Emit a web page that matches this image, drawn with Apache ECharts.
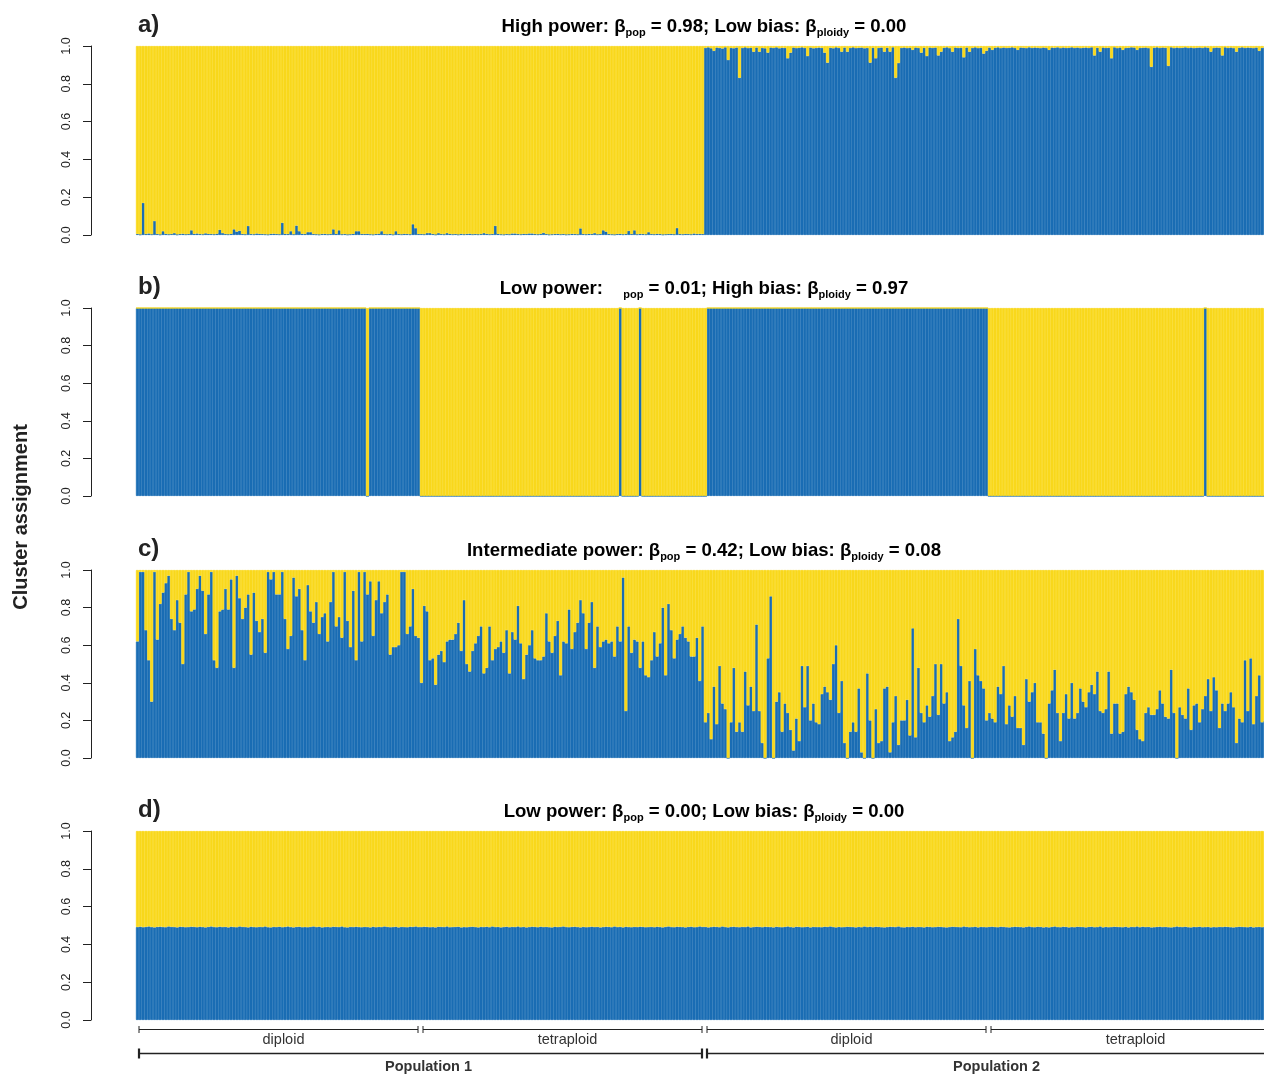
<!DOCTYPE html>
<html><head><meta charset="utf-8">
<script src="https://cdn.jsdelivr.net/npm/echarts@6/dist/echarts.min.js"></script>
<style>html,body{margin:0;padding:0;background:#fff;overflow:hidden}#c{width:1280px;height:1075px}</style>
</head><body><div id="c"></div>
<script>
// ---------------- data ----------------
const panelLetters = ['a)', 'b)', 'c)', 'd)'];
const powerLabels = ['High power:', 'Low power:', 'Intermediate power:', 'Low power:'];
const betaPop = ['0.98', '0.01', '0.42', '0.00'];
const biasLabels = ['Low bias:', 'High bias:', 'Low bias:', 'Low bias:'];
const betaPloidy = ['0.00', '0.97', '0.08', '0.00'];
const betaPopSymbolShown = [true, false, true, true];
const yTicks = [0, 0.2, 0.4, 0.6, 0.8, 1.0];
const groupLabels = ['diploid', 'tetraploid', 'diploid', 'tetraploid'];
const groupRanges = [[0, 100], [100, 200], [200, 300], [300, 400]];
const popLabels = ['Population 1', 'Population 2'];
const popRanges = [[0, 200], [200, 400]];
const yTitle = 'Cluster assignment';

// blue cluster membership, percent, 400 individuals
const blueA = [
0.5,0.3,17,0.5,0.8,0.4,7.4,0.5,0.3,2,0.6,0.4,0.5,1,0.3,0.5,0.7,0.4,0.5,2.5,
0.6,0.8,0.5,0.4,0.9,0.6,0.5,0.4,0.7,2.8,1,0.5,0.4,0.6,3,1.8,2.3,0.5,0.4,4.8,
0.5,0.4,0.8,0.6,0.5,0.4,0.3,0.6,0.7,0.5,0.4,6.5,0.6,0.5,2,0.4,5,2,0.6,0.5,
1.5,1.5,0.5,0.4,0.3,0.5,0.6,0.4,0.5,3,0.6,2.5,0.4,0.5,0.3,0.4,0.6,2,2,0.5,
0.5,0.6,0.4,0.3,0.5,0.7,2,0.5,0.4,0.6,0.3,2,0.5,0.4,0.6,0.5,0.4,5.7,3.6,0.5,
0.5,0.4,1,1,0.5,0.3,1,0.5,0.4,1,0.6,0.4,0.5,0.3,0.6,0.4,0.5,0.7,0.4,0.5,
0.4,0.5,1,0.6,0.4,0.5,4.9,0.6,0.4,0.3,0.5,0.4,0.8,0.8,0.5,0.4,0.6,0.5,0.8,0.8,
0.5,0.4,0.6,1.2,0.5,0.3,0.4,0.5,0.6,0.4,0.5,0.3,0.4,0.6,0.5,0.4,3.5,0.5,0.4,0.6,
0.5,1,0.4,0.5,2.5,1.8,0.5,0.4,0.3,0.5,0.6,0.4,0.5,2.2,0.5,2.5,0.4,0.6,0.5,0.4,
1.5,0.5,0.4,0.6,0.5,0.3,0.4,0.5,0.6,0.4,3.7,0.5,0.4,0.6,0.5,0.4,0.8,0.5,0.6,0.5,
99,99.3,98.8,97.5,99.2,99,98.7,99.3,92.6,99,98.8,99.2,83.2,99,99.3,98.9,99.1,97,99.2,97,
99,98.8,96.5,99.2,99,99.3,98.8,99.1,99,93.5,96.5,99.2,98.9,99.1,99.3,99,94.7,99.2,98.8,99,
99.2,99,96.5,91.2,99.1,98.8,99.3,99,97,99.2,97,99,99.3,98.9,99.1,99.2,98.8,99,91.2,99.1,
93.5,99,99.2,97,99.1,97,99.3,83.2,91,99,99.2,98.9,99.1,98,99.2,99,96.5,99.1,94.7,99.2,
99,99.2,95,97,99.1,99.3,98.9,97,99.2,99,99.1,94,99.2,97,99,99.3,98.9,99.1,96,97.5,
99.2,98,99.1,99.3,98.9,99.2,99,99.1,99.3,99,98,99.2,99.1,98.9,99.3,99,99.2,99.1,98.9,99.2,
99,98,99.2,99.1,99.3,98.9,99.2,99,99.1,99.3,99,99.2,98.9,99.1,99.2,99,99.3,95,99.1,97,
99.2,99,99.1,93.5,99.3,98.9,99.2,98,99,99.1,99.3,99.2,98,99,99.1,99.2,98.9,89,99.1,99.3,
99,99.2,99.1,89.5,99.3,98.9,99.2,99,99.1,99.3,99,99.2,98.9,99.1,99.2,99,99.3,99.1,97,99,
99.2,99.1,95,99.3,99,99.2,98.9,97,99.1,99.3,99,99.2,99.1,98.9,99.2,97.5,99,99.3,99.1,99.2
];
const blueB = [
100,100,100,100,100,100,100,100,100,100,100,100,100,100,100,100,100,100,100,100,
100,100,100,100,100,100,100,100,100,100,100,100,100,100,100,100,100,100,100,100,
100,100,100,100,100,100,100,100,100,100,100,100,100,100,100,100,100,100,100,100,
100,100,100,100,100,100,100,100,100,100,100,100,100,100,100,100,100,100,100,100,
100,0,100,100,100,100,100,100,100,100,100,100,100,100,100,100,100,100,100,100,
0,0,0,0,0,0,0,0,0,0,0,0,0,0,0,0,0,0,0,0,
0,0,0,0,0,0,0,0,0,0,0,0,0,0,0,0,0,0,0,0,
0,0,0,0,0,0,0,0,0,0,0,0,0,0,0,0,0,0,0,0,
0,0,0,0,0,0,0,0,0,0,100,0,0,0,0,0,0,100,0,0,
0,0,0,0,0,0,0,0,0,0,0,0,0,0,0,0,0,0,0,0,
0,100,100,100,100,100,100,100,100,100,100,100,100,100,100,100,100,100,100,100,
100,100,100,100,100,100,100,100,100,100,100,100,100,100,100,100,100,100,100,100,
100,100,100,100,100,100,100,100,100,100,100,100,100,100,100,100,100,100,100,100,
100,100,100,100,100,100,100,100,100,100,100,100,100,100,100,100,100,100,100,100,
100,100,100,100,100,100,100,100,100,100,100,100,100,100,100,100,100,100,100,100,
0,0,0,0,0,0,0,0,0,0,0,0,0,0,0,0,0,0,0,0,
0,0,0,0,0,0,0,0,0,0,0,0,0,0,0,0,0,0,0,0,
0,0,0,0,0,0,0,0,0,0,0,0,0,0,0,0,0,0,0,0,
0,0,0,0,0,0,0,0,0,0,0,0,0,0,0,0,100,0,0,0,
0,0,0,0,0,0,0,0,0,0,0,0,0,0,0,0,0,0,0,0
];
const blueC = [
62,99,99,68,52,30,99,63,82,88,93,97,74,68,84,72,50,87,99,78,
79,90,97,89,66,87,99,52,48,78,79,90,79,95,48,97,85,74,80,87,
55,88,73,67,74,56,99,95,99,87,87,99,74,58,65,96,86,90,68,52,
92,78,72,83,66,75,77,62,83,99,70,75,64,99,73,59,89,52,99,62,
99,87,94,65,84,94,77,83,87,55,59,59,60,99,99,66,70,90,65,64,
40,81,78,52,53,39,55,57,51,62,63,63,66,72,57,84,50,46,57,61,
65,70,45,48,70,52,58,59,62,56,68,45,67,63,81,61,42,55,60,68,
53,52,52,54,77,62,56,65,73,44,62,61,79,58,67,72,84,77,58,72,
83,48,70,59,62,63,61,62,54,70,62,96,25,70,56,63,62,48,62,44,
43,52,67,54,61,80,44,82,68,53,63,66,70,64,62,54,54,64,41,70,
19,24,10,38,18,49,29,26,0,19,48,14,19,14,46,28,38,25,71,25,
8,0,53,86,0,30,35,14,29,24,15,4,21,9,49,27,49,20,29,19,
18,34,38,35,31,50,60,24,41,8,0,14,19,14,37,3,0,45,20,0,
26,8,9,37,38,3,19,33,7,20,20,31,12,69,11,48,24,19,28,22,
33,50,23,50,29,35,9,11,14,74,49,28,16,41,0,58,44,41,37,20,
24,21,19,38,34,49,18,28,22,33,16,16,7,42,30,35,40,19,19,13,
0,29,36,47,24,9,24,34,21,40,21,24,37,30,27,35,39,34,46,25,
24,26,46,13,29,29,13,14,34,38,35,31,15,10,9,24,27,23,23,26,
36,29,22,21,47,24,0,27,23,21,37,15,28,29,19,26,33,42,25,43,
36,16,29,25,29,35,27,8,21,19,52,25,53,18,33,44,19,20,30,25
];
// per mille
const blueD = [
492,494,491,493,495,492,490,493,494,492,491,495,493,492,490,494,493,491,492,494,
493,491,494,492,490,493,495,492,491,494,492,493,490,494,492,491,495,493,492,490,
494,492,491,493,492,495,491,490,493,492,494,491,493,495,492,490,493,494,491,492,
491,493,495,492,494,490,492,493,491,494,493,492,495,491,490,493,492,494,492,491,
493,492,490,494,491,493,492,495,493,491,492,494,490,493,492,491,494,493,495,492,
492,494,493,491,492,490,494,493,492,495,491,492,493,494,490,492,491,493,494,492,
490,493,492,494,491,495,492,493,490,492,494,491,493,492,495,491,493,490,492,494,
493,491,494,492,493,491,490,494,492,493,495,492,491,493,494,492,490,493,491,492,
494,492,493,490,492,494,493,491,495,492,493,490,494,492,491,493,492,494,493,491,
492,493,491,494,492,490,493,495,492,491,494,493,492,490,493,494,491,492,495,493,
493,490,492,494,493,491,495,492,490,493,494,492,491,493,492,495,490,492,494,493,
491,494,493,492,490,494,492,491,493,495,492,490,494,493,491,492,494,490,493,492,
492,491,494,493,495,492,490,493,491,492,494,493,492,490,493,491,495,492,494,491,
494,493,491,490,492,494,493,492,495,491,490,493,492,494,491,493,492,490,494,493,
491,492,494,493,491,490,492,494,493,492,491,495,493,491,492,494,490,493,492,491,
493,494,492,491,494,493,491,490,492,494,493,492,490,493,495,492,491,494,493,490,
492,490,493,495,492,491,494,493,490,492,491,494,493,492,490,493,494,491,492,495,
490,493,491,492,494,493,492,491,494,490,493,492,495,491,494,492,493,490,491,493,
494,492,493,491,490,492,495,493,492,494,491,490,493,492,494,491,492,493,490,492,
491,493,492,494,493,491,490,492,494,493,492,491,494,490,492,493,491,494,492,493
];

// ---------------- layout / style ----------------
const BLUE = '#1a6db4', YELLOW = '#f9d81c', INK = '#222';
const FONT = '"Liberation Sans", Arial, Helvetica, sans-serif';
const plotLeft = 136, plotWidth = 1136;
const tops = [46, 308, 570, 831];
const heights = [189, 188, 188, 189];
const titleY = [26, 288, 550, 811];

const fractions = [
  blueA.map(v => v / 100),
  blueB.map(v => v / 100),
  blueC.map(v => v / 100),
  blueD.map(v => v / 1000)
];
const nInd = blueA.length;
const categories = blueA.map((_, i) => 'ind' + (i + 1));

const grid = [], xAxis = [], yAxis = [], series = [];
for (let k = 0; k < 4; k++) {
  grid.push({ left: plotLeft, top: tops[k], width: plotWidth, height: heights[k] });
  xAxis.push({ type: 'category', gridIndex: k, data: categories, show: false, boundaryGap: true });
  yAxis.push({
    type: 'value', gridIndex: k, min: 0, max: 1, interval: 0.2, offset: 45,
    axisLine: { show: true, lineStyle: { color: INK, width: 1 } },
    axisTick: { show: true, length: 8, lineStyle: { color: INK, width: 1 } },
    axisLabel: { rotate: 90, fontSize: 12.5, color: INK, fontFamily: FONT, margin: 18,
      formatter: v => v.toFixed(1) },
    splitLine: { show: false }
  });
  series.push({
    type: 'bar', xAxisIndex: k, yAxisIndex: k, stack: 's' + k, barWidth: 3.0,
    data: fractions[k], itemStyle: { color: BLUE, borderColor: BLUE, borderWidth: 0.8 }, silent: true
  });
  series.push({
    type: 'bar', xAxisIndex: k, yAxisIndex: k, stack: 's' + k, barWidth: 3.0,
    data: fractions[k].map(f => 1 - f), itemStyle: { color: YELLOW, borderColor: YELLOW, borderWidth: 0.8 }, silent: true
  });
}
// bracket grid under panel d
grid.push({ left: plotLeft, top: 1020, width: plotWidth, height: 55 });
xAxis.push({ type: 'value', gridIndex: 4, min: 0, max: nInd, show: false });
yAxis.push({ type: 'value', gridIndex: 4, min: 0, max: 1, show: false });
const bracketData = groupRanges.map(r => [r[0], r[1], 0]).concat(popRanges.map(r => [r[0], r[1], 1]));
const bracketText = groupLabels.concat(popLabels);
series.push({
  type: 'custom', xAxisIndex: 4, yAxisIndex: 4, silent: true, data: bracketData,
  renderItem: (params, api) => {
    const lvl = api.value(2);
    const x0 = api.coord([api.value(0), 0])[0] + 3;
    const x1 = api.coord([api.value(1), 0])[0] - 2;
    const top = params.coordSys.y;
    const ly = top + (lvl ? 33.5 : 9.5);
    const ty = top + (lvl ? 47 : 20);
    const lw = lvl ? 1.6 : 1;
    const th = lvl ? 5 : 3.5;
    const st = { stroke: INK, lineWidth: lw };
    const stT = { stroke: INK, lineWidth: lvl ? 2.2 : 1 };
    return { type: 'group', children: [
      { type: 'line', shape: { x1: x0, y1: ly, x2: x1, y2: ly }, style: st },
      { type: 'line', shape: { x1: x0, y1: ly - th, x2: x0, y2: ly + th }, style: stT },
      { type: 'line', shape: { x1: x1, y1: ly - th, x2: x1, y2: ly + th }, style: stT },
      { type: 'text', x: (x0 + x1) / 2 + (lvl ? 8 : 5), y: ty,
        style: { text: bracketText[params.dataIndex], align: 'center', verticalAlign: 'middle',
          fontFamily: FONT, fontSize: 14.5, fontWeight: lvl ? 'bold' : 'normal', fill: '#333' } }
    ]};
  }
});

// titles
const rich = {
  b: { fontFamily: FONT, fontSize: 18.6, fontWeight: 'bold', color: INK, lineHeight: 28, verticalAlign: 'middle' },
  s: { fontFamily: FONT, fontSize: 11, fontWeight: 'bold', color: INK, lineHeight: 28, verticalAlign: 'bottom', padding: [0, 0, 3, 0] },
  sp: { fontFamily: FONT, fontSize: 11, fontWeight: 'bold', color: INK, lineHeight: 28, verticalAlign: 'bottom', padding: [0, 0, 3, 15] }
};
const graphic = [];
for (let k = 0; k < 4; k++) {
  const popTag = betaPopSymbolShown[k] ? '{b|β}{s|pop}' : '{sp|pop}';
  const t = '{b|' + powerLabels[k] + ' }' + popTag + '{b| = ' + betaPop[k] + '; ' + biasLabels[k] + ' β}{s|ploidy}{b| = ' + betaPloidy[k] + '}';
  graphic.push({ type: 'text', x: plotLeft + plotWidth / 2, y: titleY[k] + 1,
    style: { text: t, rich: rich, align: 'center', verticalAlign: 'middle' } });
  graphic.push({ type: 'text', x: 138, y: titleY[k] - 1,
    style: { text: panelLetters[k], fontFamily: FONT, fontSize: 24, fontWeight: 'bold', fill: INK,
      align: 'left', verticalAlign: 'middle' } });
}
graphic.push({ type: 'text', x: 21, y: 517, rotation: Math.PI / 2,
  style: { text: yTitle, fontFamily: FONT, fontSize: 20, fontWeight: 'bold', fill: INK,
    align: 'center', verticalAlign: 'middle' } });

const chart = echarts.init(document.getElementById('c'), null, { renderer: 'canvas' });
chart.setOption({ animation: false, backgroundColor: '#fff', grid, xAxis, yAxis, series, graphic });
</script></body></html>
